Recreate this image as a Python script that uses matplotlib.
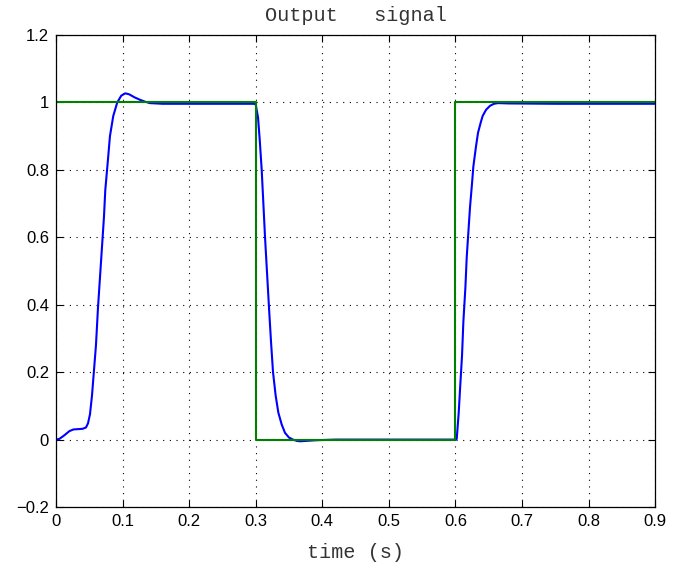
import numpy as np
import matplotlib.pyplot as plt

# reference (setpoint) signal
ref_t = [0.0, 0.3, 0.3, 0.6, 0.6, 0.9]
ref_y = [1.0, 1.0, 0.0, 0.0, 1.0, 1.0]

# system output
out_t = [0.000, 0.005, 0.012, 0.020, 0.026, 0.033, 0.040, 0.045, 0.048, 0.051,
         0.054, 0.056, 0.060, 0.063, 0.066, 0.069, 0.072, 0.074, 0.078, 0.081,
         0.086, 0.092, 0.098, 0.104, 0.110, 0.118, 0.126, 0.134, 0.141, 0.160,
         0.200, 0.250, 0.298, 0.300, 0.3035, 0.306, 0.309, 0.3115, 0.314, 0.317,
         0.320, 0.323, 0.326, 0.330, 0.334, 0.339, 0.344, 0.350, 0.356, 0.362,
         0.367, 0.375, 0.390, 0.420, 0.500, 0.600, 0.602, 0.605, 0.607, 0.610,
         0.612, 0.615, 0.617, 0.620, 0.622, 0.625, 0.627, 0.631, 0.634, 0.638,
         0.641, 0.646, 0.652, 0.658, 0.664, 0.680, 0.750, 0.900]
out_y = [0.000, 0.002, 0.012, 0.025, 0.030, 0.031, 0.032, 0.036, 0.048, 0.075,
         0.130, 0.180, 0.280, 0.390, 0.480, 0.570, 0.660, 0.740, 0.830, 0.900,
         0.960, 1.000, 1.020, 1.027, 1.024, 1.015, 1.008, 1.002, 0.998, 0.996,
         0.996, 0.996, 0.996, 0.994, 0.955, 0.890, 0.800, 0.700, 0.600, 0.495,
         0.390, 0.290, 0.200, 0.130, 0.080, 0.045, 0.020, 0.006, 0.000, -0.004,
         -0.005, -0.004, -0.002, 0.000, 0.000, 0.000, 0.002, 0.080, 0.150, 0.250,
         0.350, 0.450, 0.540, 0.630, 0.690, 0.760, 0.810, 0.870, 0.910, 0.940,
         0.960, 0.978, 0.990, 0.996, 0.998, 0.997, 0.996, 0.996]

x_ticks = [0, 0.1, 0.2, 0.3, 0.4, 0.5, 0.6, 0.7, 0.8, 0.9]
x_labels = ["0", "0.1", "0.2", "0.3", "0.4", "0.5", "0.6", "0.7", "0.8", "0.9"]
y_ticks = [-0.2, 0, 0.2, 0.4, 0.6, 0.8, 1, 1.2]
y_labels = ["\u22120.2", "0", "0.2", "0.4", "0.6", "0.8", "1", "1.2"]

fig = plt.figure(figsize=(6.85, 5.7), dpi=100)
ax = fig.add_axes([0.0818, 0.1105, 0.8745, 0.8281])

ax.plot(out_t, out_y, color="#0000ff", lw=1.5)
ax.plot(ref_t, ref_y, color="#008000", lw=1.5)

ax.set_xlim(0, 0.9)
ax.set_ylim(-0.2, 1.2)
ax.set_xticks(x_ticks)
ax.set_xticklabels(x_labels, family="Liberation Sans", fontsize=12)
ax.set_yticks(y_ticks)
ax.set_yticklabels(y_labels, family="Liberation Sans", fontsize=12)
ax.tick_params(direction="in", length=5, width=0.8, top=True, right=True, pad=5)
ax.grid(True, color="black", linestyle=(0, (1, 5)), linewidth=0.8)
for s in ax.spines.values():
    s.set_linewidth(0.9)

ax.set_title("Output   signal", family="Liberation Mono", fontsize=14.5,
             pad=10, color="#333333")
ax.set_xlabel("time (s)", family="Liberation Mono", fontsize=14.5,
              labelpad=10, color="#333333")

fig.savefig("out.png", dpi=100)
